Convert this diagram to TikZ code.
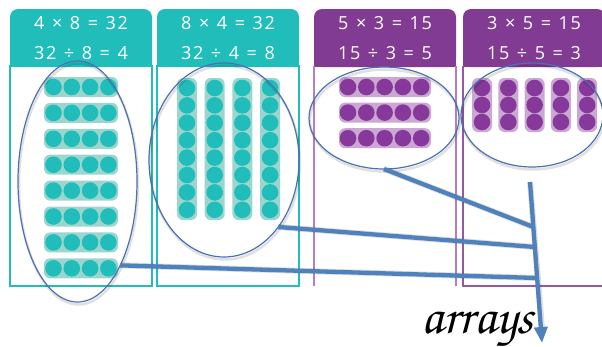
\documentclass[tikz,border=0pt]{standalone}
\usepackage[T1,TU]{fontenc}
\usepackage{fontspec}
\setmainfont{Open Sans}
\newfontfamily\hdfont[LetterSpace=9,WordSpace=1.2]{Open Sans}
\usetikzlibrary{shapes.geometric,arrows.meta,calc}

\definecolor{tealhd}{HTML}{21BDBA}
\definecolor{tealpill}{HTML}{9AD6CE}
\definecolor{purphd}{HTML}{823B92}
\definecolor{purppill}{HTML}{CBA8D3}
\definecolor{purpdot}{HTML}{87399B}
\definecolor{purpline}{HTML}{B47FC1}
\definecolor{inkblue}{HTML}{4A70B6}
\definecolor{barblue}{HTML}{4F81BD}

\tikzset{
  hdtext/.style={text=white, font=\hdfont\fontsize{18}{20}\selectfont, inner sep=0pt, anchor=center},
  ring/.style={ellipse, draw=inkblue, line width=1.2pt, inner sep=0pt, outer sep=0pt},
  ringshadow/.style={ellipse, draw=black, draw opacity=0.12, line width=2.5pt, inner sep=0pt, outer sep=0pt},
  bar/.style={draw=barblue, line width=4.3pt},
  barshadow/.style={draw=black, draw opacity=0.13, line width=6pt},
  tealpillbox/.style={fill=tealpill, rounded corners=6pt},
  purppillbox/.style={fill=purppill, rounded corners=6pt},
}

\begin{document}
\begin{tikzpicture}[x=1pt,y=-1pt]
\useasboundingbox (0,0) rectangle (602,346);
\clip (0,0) rectangle (602,346);

% ---- teal panels
\foreach \xa/\xb in {10/152,157/299}{
  \fill[tealhd, rounded corners=8pt] (\xa,9) rectangle (\xb,67);
  \fill[tealhd] (\xa,40) rectangle (\xb,67);
  \draw[tealhd, line width=1.3pt] (\xa,66) rectangle (\xb,286);
}
% ---- purple panels
\fill[purphd, rounded corners=8pt] (314,9) rectangle (456,67);
\fill[purphd] (314,40) rectangle (456,67);
\draw[purpline, line width=1.8pt] (314,66) -- (314,286) (456,66) -- (456,286);
\fill[purphd, rounded corners=8pt] (463,9) rectangle (605,67);
\fill[purphd] (463,40) rectangle (605,67);
\draw[purphd!85, line width=1.3pt] (463,66) -- (463,286) -- (605,286);

% ---- header equations
\node[hdtext] (h1a) at (81,23) {4 × 8 = 32};
\node[hdtext] (h1b) at (81,53) {32 ÷ 8 = 4};
\node[hdtext] (h2a) at (228,23) {8 × 4 = 32};
\node[hdtext] (h2b) at (228,53) {32 ÷ 4 = 8};
\node[hdtext] (h3a) at (385,23) {5 × 3 = 15};
\node[hdtext] (h3b) at (385,53) {15 ÷ 3 = 5};
\node[hdtext] (h4a) at (534,23) {3 × 5 = 15};
\node[hdtext] (h4b) at (534,53) {15 ÷ 5 = 3};

% ---- 8 rows of 4
\foreach \r in {0,...,7}{
  \pgfmathsetmacro\yy{87+25.9*\r}
  \fill[tealpillbox] (44,\yy-10) rectangle (118,\yy+10);
  \foreach \c in {0,...,3}
    \fill[tealhd] ({53.5+18.3*\c},\yy) circle (8.3);
}
% ---- 4 columns of 8
\foreach \c in {0,...,3}{
  \pgfmathsetmacro\xx{187+27.7*\c}
  \fill[tealpillbox] (\xx-10,78) rectangle (\xx+10,220);
  \foreach \k in {0,...,7}
    \fill[tealhd] (\xx,{88+17.4*\k}) circle (8.3);
}
% ---- 3 rows of 5
\foreach \r in {0,...,2}{
  \pgfmathsetmacro\yy{87+25.6*\r}
  \fill[purppillbox] (339,\yy-10) rectangle (431,\yy+10);
  \foreach \c in {0,...,4}
    \fill[purpdot] ({348+18.3*\c},\yy) circle (8.3);
}
% ---- 5 columns of 3
\foreach \c in {0,...,4}{
  \pgfmathsetmacro\xx{482+26.3*\c}
  \fill[purppillbox] (\xx-10,78) rectangle (\xx+10,132);
  \foreach \k in {0,...,2}
    \fill[purpdot] (\xx,{88+17*\k}) circle (8.3);
}

% ---- rings round each array
\foreach \cx/\cy/\w/\h in {77.5/181.5/119/241, 224/160/150/194, 384/118/150/102, 532/115/142/104}
  \node[ringshadow, minimum width=\w pt, minimum height=\h pt] at (\cx+1,\cy+2.5) {};
\node[ring, minimum width=119pt, minimum height=241pt] (e1) at (77.5,181.5) {};
\node[ring, minimum width=150pt, minimum height=194pt] (e2) at (224,160) {};
\node[ring, minimum width=150pt, minimum height=102pt] (e3) at (384,118) {};
\node[ring, minimum width=142pt, minimum height=104pt] (e4) at (532,115) {};

% ---- pointers to the label
\coordinate (top) at (530,182);
\coordinate (tip) at (542,343);
\coordinate (j1) at (533.4,227);
\coordinate (j2) at (534.8,247);
\coordinate (j3) at (537.2,278);

\begin{scope}[shift={(1.5,3.5)}]
  \draw[barshadow] (e3.south) -- (j1);
  \draw[barshadow] (e2.-51.7) -- (j2);
  \draw[barshadow] (e1.-63.3) -- (j3);
  \draw[barshadow] (top) -- ($(tip)+(0,-14)$);
\end{scope}
\draw[bar] (e3.south) -- (j1);
\draw[bar] (e2.-51.7) -- (j2);
\draw[bar] (e1.-63.3) -- (j3);
\draw[bar, -{Triangle[width=13pt,length=16pt]}] (top) -- (tip);

% ---- label
\node[anchor=base west, inner sep=0pt, font=\fontencoding{T1}\fontfamily{pzc}\fontseries{m}\fontshape{it}\fontsize{52}{52}\selectfont] (lbl) at (421,333) {arrays};
\end{tikzpicture}
\end{document}
